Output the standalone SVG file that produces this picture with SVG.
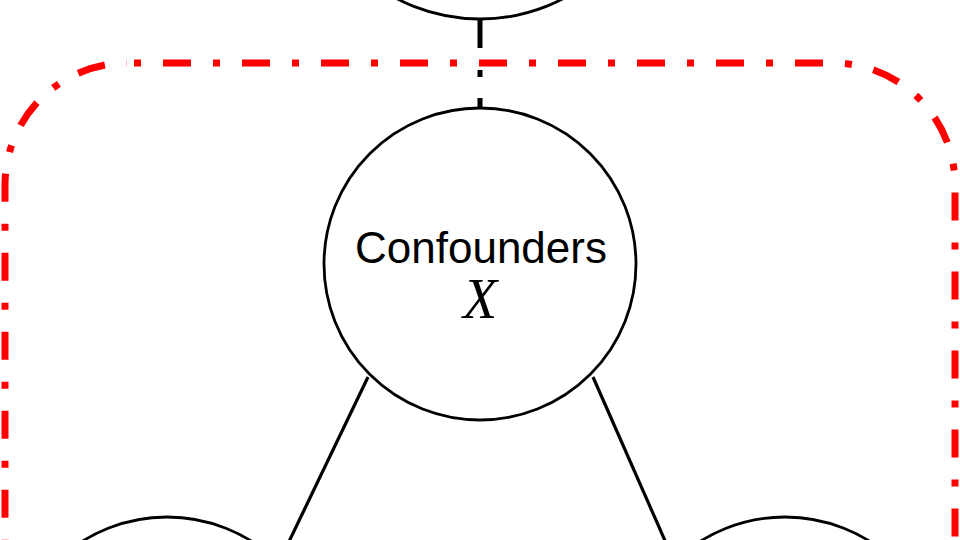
<svg xmlns="http://www.w3.org/2000/svg" width="960" height="540" viewBox="0 0 960 540">
<style>
.node{fill:#fff;stroke:#000;stroke-width:2.8}
.edge{stroke:#000;stroke-width:3.2;fill:none}
.dashed{stroke:#000;stroke-width:5;fill:none;stroke-dasharray:29 22 7 21}
.lbl{font-family:"Liberation Sans",Arial,sans-serif;font-size:44px;fill:#000;text-anchor:middle}
.var{font-family:"Liberation Serif","Times New Roman",serif;font-style:italic;font-size:56px;fill:#000;text-anchor:middle}
</style>
<rect width="960" height="540" fill="#fff"/>
<g id="boundary">
<rect x="5" y="63" width="950" height="620" rx="122" ry="122" fill="none" stroke="#f00" stroke-width="7" stroke-dasharray="28 22 7 22" stroke-dashoffset="43"/>
</g>
<g id="connectors">
<line class="dashed" x1="480" y1="19" x2="480" y2="110"/>
<line class="edge" x1="368" y1="377" x2="284" y2="552"/>
<line class="edge" x1="593" y1="377" x2="670" y2="552"/>
</g>
<g id="node-top">
<circle class="node" cx="480" cy="-161" r="180"/>
</g>
<g id="node-confounders">
<circle class="node" cx="480" cy="264" r="156"/>
<text class="lbl" x="481" y="263">Confounders</text>
<text class="var" x="480" y="318">X</text>
</g>
<g id="node-left">
<circle class="node" cx="167" cy="677" r="160"/>
</g>
<g id="node-right">
<circle class="node" cx="785" cy="677" r="160"/>
</g>
</svg>
